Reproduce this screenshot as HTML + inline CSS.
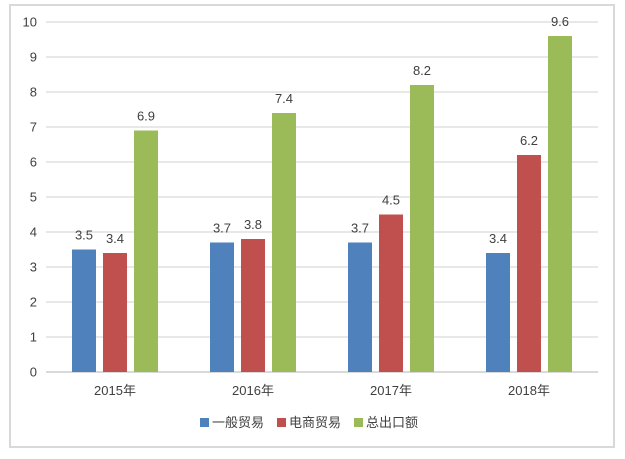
<!DOCTYPE html>
<html><head><meta charset="utf-8"><style>
body{margin:0;background:#fff;}
svg text{font-family:"Liberation Sans","Noto Sans CJK SC",sans-serif;}
</style></head><body>
<svg width="625" height="454">
<rect x="10" y="5" width="604" height="442" fill="#fff" stroke="#d9d9d9" stroke-width="2"/>
<g id="grid"></g><g id="bars"></g><g id="labels"></g>
<g font-size="13" fill="#404040">
<rect x="200" y="418" width="9" height="9" fill="#4f81bd"/>
<text x="212" y="427">一般贸易</text>
<rect x="277" y="418" width="9" height="9" fill="#c0504d"/>
<text x="289" y="427">电商贸易</text>
<rect x="354" y="418" width="9" height="9" fill="#9bbb59"/>
<text x="366" y="427">总出口额</text>
</g>
</svg>
<script>
const categories=["2015年","2016年","2017年","2018年"];
const general=[3.5,3.7,3.7,3.4];
const ecommerce=[3.4,3.8,4.5,6.2];
const total=[6.9,7.4,8.2,9.6];
const yTicks=[0,1,2,3,4,5,6,7,8,9,10];
const NS="http://www.w3.org/2000/svg";
const x0=46,x1=598,y0=372,yTop=22;
const yScale=v=>y0-(v/10)*(y0-yTop);
const band=(x1-x0)/categories.length;
const xCenter=i=>x0+band*(i+0.5);
function mk(tag,attrs,parent){const e=document.createElementNS(NS,tag);for(const k in attrs)e.setAttribute(k,attrs[k]);parent.appendChild(e);return e;}
const grid=document.getElementById('grid'),bars=document.getElementById('bars'),labels=document.getElementById('labels');
yTicks.forEach(t=>{
 const l=mk('line',{x1:x0,x2:x1,y1:yScale(t),y2:yScale(t),stroke:'#d9d9d9','stroke-width':t===0?2:1.3},grid);
 
 
 const tx=mk('text',{x:37,y:yScale(t)+4.5,'text-anchor':'end','font-size':13,fill:'#404040'},grid);
 tx.textContent=t;
 
 
});
const series=[[general,'#4f81bd','general'],[ecommerce,'#c0504d','ecommerce'],[total,'#9bbb59','total']];
const bw=24,step=31;
categories.forEach((c,i)=>{
 const cx=xCenter(i);
 series.forEach(([vals,col,nm],j)=>{
  const bx=cx-bw/2+(j-1)*step;
  const r=mk('rect',{x:bx,y:yScale(vals[i]),width:bw,height:y0-yScale(vals[i]),fill:col},bars);
  
  
  const t=mk('text',{x:bx+bw/2,y:yScale(vals[i])-10,'text-anchor':'middle','font-size':13,fill:'#404040'},labels);
  t.textContent=vals[i].toFixed(1);
  
  
 });
 const xl=mk('text',{x:cx,y:395,'text-anchor':'middle','font-size':13,fill:'#404040'},labels);
 xl.textContent=c;
 
 
});
</script>
</body></html>
